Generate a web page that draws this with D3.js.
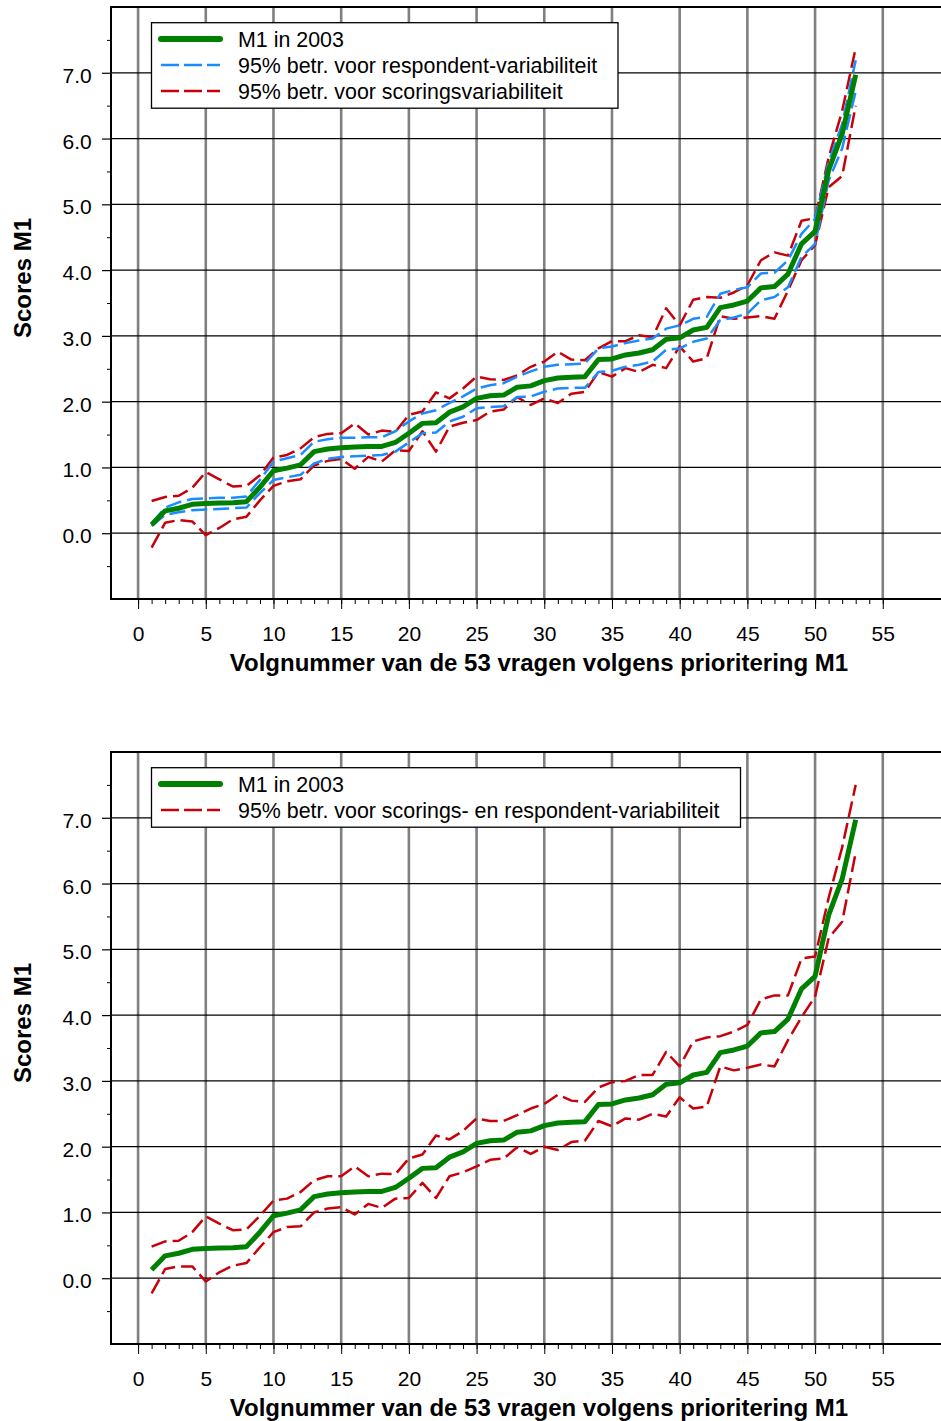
<!DOCTYPE html>
<html>
<head>
<meta charset="utf-8">
<script src="https://cdn.jsdelivr.net/npm/d3@7"></script>
<style>
  body { margin: 0; background: #fff; }
  svg { display: block; }
  text { font-family: "Liberation Sans", Arial, sans-serif; fill: #000; }
</style>
</head>
<body>
<svg id="chart"></svg>
<script>
// question number 1..53 (ordered by M1 priority)
const questions = d3.range(1, 54)

// M1 score 2003
const m1 = [0.13, 0.34, 0.38, 0.44, 0.45, 0.46, 0.465, 0.48, 0.70, 0.95,
  0.99, 1.04, 1.24, 1.28, 1.30, 1.31, 1.32, 1.32, 1.38, 1.52,
  1.67, 1.68, 1.84, 1.92, 2.05, 2.09, 2.10, 2.22, 2.24, 2.32,
  2.36, 2.37, 2.38, 2.64, 2.65, 2.71, 2.74, 2.79, 2.95, 2.97,
  3.09, 3.13, 3.43, 3.47, 3.53, 3.73, 3.75, 3.94, 4.40, 4.59,
  5.52, 6.07, 6.97]

// 95% interval, respondent variability
const respUp = [0.15, 0.39, 0.47, 0.52, 0.53, 0.54, 0.54, 0.56, 0.81, 1.09,
  1.14, 1.19, 1.39, 1.43, 1.45, 1.45, 1.46, 1.46, 1.55, 1.70,
  1.82, 1.87, 1.98, 2.08, 2.20, 2.25, 2.28, 2.38, 2.46, 2.53,
  2.56, 2.57, 2.58, 2.81, 2.84, 2.89, 2.93, 2.96, 3.11, 3.16,
  3.26, 3.29, 3.64, 3.70, 3.74, 3.95, 3.96, 4.15, 4.55, 4.78,
  5.64, 6.22, 7.19]
const respLo = [0.11, 0.28, 0.32, 0.35, 0.36, 0.37, 0.38, 0.39, 0.61, 0.81,
  0.85, 0.89, 1.06, 1.13, 1.16, 1.17, 1.18, 1.19, 1.24, 1.38,
  1.52, 1.53, 1.70, 1.77, 1.90, 1.92, 1.93, 2.07, 2.08, 2.15,
  2.20, 2.21, 2.21, 2.45, 2.47, 2.53, 2.56, 2.61, 2.79, 2.81,
  2.91, 2.96, 3.24, 3.28, 3.34, 3.54, 3.59, 3.74, 4.20, 4.40,
  5.36, 5.85, 6.72]

// 95% interval, scoring variability
const scorUp = [0.49, 0.55, 0.57, 0.69, 0.93, 0.82, 0.71, 0.72, 0.88, 1.15,
  1.19, 1.29, 1.46, 1.51, 1.52, 1.67, 1.50, 1.56, 1.54, 1.80,
  1.85, 2.14, 2.05, 2.20, 2.38, 2.34, 2.33, 2.40, 2.53, 2.61,
  2.76, 2.64, 2.63, 2.81, 2.92, 2.92, 3.01, 2.98, 3.42, 3.16,
  3.55, 3.59, 3.58, 3.66, 3.77, 4.15, 4.27, 4.22, 4.75, 4.79,
  5.71, 6.42, 7.38]
const scorLo = [-0.22, 0.16, 0.20, 0.18, -0.03, 0.08, 0.21, 0.25, 0.50, 0.72,
  0.79, 0.82, 1.03, 1.10, 1.13, 0.98, 1.16, 1.09, 1.26, 1.25,
  1.55, 1.24, 1.62, 1.68, 1.72, 1.85, 1.88, 2.07, 1.95, 2.05,
  1.98, 2.12, 2.15, 2.45, 2.38, 2.51, 2.45, 2.56, 2.51, 2.84,
  2.61, 2.66, 3.30, 3.26, 3.28, 3.30, 3.26, 3.69, 4.15, 4.38,
  5.26, 5.43, 6.50]

// 95% interval, scoring + respondent variability
const bothUp = [0.48, 0.56, 0.57, 0.70, 0.94, 0.83, 0.73, 0.74, 0.95, 1.18,
  1.21, 1.31, 1.49, 1.55, 1.55, 1.70, 1.55, 1.59, 1.58, 1.82,
  1.88, 2.17, 2.11, 2.24, 2.43, 2.39, 2.39, 2.48, 2.58, 2.65,
  2.79, 2.70, 2.68, 2.90, 2.98, 3.00, 3.09, 3.09, 3.44, 3.22,
  3.60, 3.66, 3.68, 3.75, 3.85, 4.24, 4.30, 4.30, 4.86, 4.89,
  5.78, 6.55, 7.50]
const bothLo = [-0.23, 0.14, 0.18, 0.18, -0.05, 0.09, 0.19, 0.23, 0.47, 0.70,
  0.78, 0.79, 1.00, 1.06, 1.08, 0.97, 1.13, 1.07, 1.21, 1.22,
  1.45, 1.22, 1.55, 1.61, 1.70, 1.80, 1.82, 1.99, 1.89, 2.00,
  1.95, 2.07, 2.09, 2.39, 2.31, 2.43, 2.41, 2.50, 2.46, 2.75,
  2.58, 2.61, 3.22, 3.16, 3.20, 3.25, 3.22, 3.62, 3.97, 4.28,
  5.17, 5.42, 6.47]

const xTicks = [0, 5, 10, 15, 20, 25, 30, 35, 40, 45, 50, 55]
const yTicks = [0, 1, 2, 3, 4, 5, 6, 7]
const xTitle = "Volgnummer van de 53 vragen volgens prioritering M1"
const yTitle = "Scores M1"

const W = 941, H = 1421
const svg = d3.select("#chart").attr("width", W).attr("height", H)

const GREEN = "#008000", BLUE = "#1a8cff", RED = "#c8000a"

function drawPanel(top, bands, legend) {
  const g = svg.append("g")
  const left = 111, bottom = top + 592
  const x = d3.scaleLinear().domain([-2, 60]).range([left, left + 62 * 13.54])
  const y = d3.scaleLinear().domain([-1, 8]).range([bottom, top])

  // vertical grey grid
  g.selectAll(".vgrid").data(xTicks).join("line")
    .attr("class", "vgrid")
    .attr("x1", d => x(d)).attr("x2", d => x(d))
    .attr("y1", top).attr("y2", bottom)
    .attr("stroke", "#808080").attr("stroke-width", 2.6)

  // horizontal black grid
  g.selectAll(".hgrid").data(yTicks).join("line")
    .attr("class", "hgrid")
    .attr("x1", left).attr("x2", W)
    .attr("y1", d => y(d)).attr("y2", d => y(d))
    .attr("stroke", "#000").attr("stroke-width", 1.2)

  // x axis: minor + major ticks
  g.append("g").attr("transform", `translate(0,${bottom})`)
    .call(d3.axisBottom(x).tickValues(d3.range(0, 56)).tickSize(5).tickFormat(""))
    .call(a => a.select(".domain").remove())
    .call(a => a.selectAll("line").attr("stroke-width", 1))
  g.append("g").attr("transform", `translate(0,${bottom})`)
    .call(d3.axisBottom(x).tickValues(xTicks).tickSize(10).tickPadding(16.6))
    .call(a => a.select(".domain").remove())
    .call(a => a.selectAll("text").attr("font-size", 21).attr("font-family", "Liberation Sans, Arial").attr("fill", "#000"))

  // y axis: minor + major ticks
  g.append("g").attr("transform", `translate(${left},0)`)
    .call(d3.axisLeft(y).tickValues(d3.range(-0.5, 8, 1)).tickSize(4).tickFormat(""))
    .call(a => a.select(".domain").remove())
  g.append("g").attr("transform", `translate(${left},0)`)
    .call(d3.axisLeft(y).tickValues(yTicks).tickSize(9).tickPadding(10.3).tickFormat(d3.format(".1f")))
    .call(a => a.select(".domain").remove())
    .call(a => a.selectAll("line").attr("stroke-width", 1.2))
    .call(a => a.selectAll("text").attr("font-size", 21).attr("dy", "0.45em").attr("font-family", "Liberation Sans, Arial").attr("fill", "#000"))

  // frame
  g.append("path")
    .attr("d", `M${W},${top}H${left}V${bottom}H${W}`)
    .attr("fill", "none").attr("stroke", "#000").attr("stroke-width", 2)

  // titles
  g.append("text")
    .attr("x", 539).attr("y", bottom + 71.5)
    .attr("text-anchor", "middle").attr("font-size", 24).attr("font-weight", "bold")
    .text(xTitle)
  g.append("text")
    .attr("transform", `translate(30.5,${top + 271}) rotate(-90)`)
    .attr("text-anchor", "middle").attr("font-size", 24).attr("font-weight", "bold")
    .text(yTitle)

  // series lines
  const line = d3.line().x((d, i) => x(questions[i])).y(d => y(d))
  bands.forEach(b => {
    g.append("path").datum(b.values)
      .attr("d", line)
      .attr("fill", "none").attr("stroke", b.color)
      .attr("stroke-width", b.width)
      .attr("stroke-dasharray", b.dash || null)
      .attr("stroke-linejoin", "round")
  })

  // legend
  const lg = g.append("g")
  const boxTop = top + 15.7
  lg.append("rect")
    .attr("x", 151.5).attr("y", boxTop)
    .attr("width", legend.width).attr("height", legend.items.length * 26 + 7.5)
    .attr("fill", "#fff").attr("stroke", "#000").attr("stroke-width", 1.3)
  legend.items.forEach((it, i) => {
    const ry = top + 32 + i * 26
    lg.append("line")
      .attr("x1", 161).attr("x2", 220).attr("y1", ry).attr("y2", ry)
      .attr("stroke", it.color).attr("stroke-width", it.dash ? 2.6 : 6)
      .attr("stroke-linecap", it.dash ? "butt" : "round")
      .attr("stroke-dasharray", it.dash ? "18,5" : null)
    lg.append("text")
      .attr("x", 238).attr("y", ry + 7.5)
      .attr("font-size", 21.4)
      .text(it.label)
  })
}

drawPanel(7, [
  { values: scorUp, color: RED, width: 2.5, dash: "16,6" },
  { values: scorLo, color: RED, width: 2.5, dash: "16,6" },
  { values: respUp, color: BLUE, width: 2.5, dash: "16,6" },
  { values: respLo, color: BLUE, width: 2.5, dash: "16,6" },
  { values: m1, color: GREEN, width: 5 }
], {
  width: 466.5,
  items: [
    { label: "M1 in 2003", color: GREEN },
    { label: "95% betr. voor respondent-variabiliteit", color: BLUE, dash: true },
    { label: "95% betr. voor scoringsvariabiliteit", color: RED, dash: true }
  ]
})

drawPanel(752, [
  { values: bothUp, color: RED, width: 2.5, dash: "16,6" },
  { values: bothLo, color: RED, width: 2.5, dash: "16,6" },
  { values: m1, color: GREEN, width: 5 }
], {
  width: 589,
  items: [
    { label: "M1 in 2003", color: GREEN },
    { label: "95% betr. voor scorings- en respondent-variabiliteit", color: RED, dash: true }
  ]
})
</script>
</body>
</html>
